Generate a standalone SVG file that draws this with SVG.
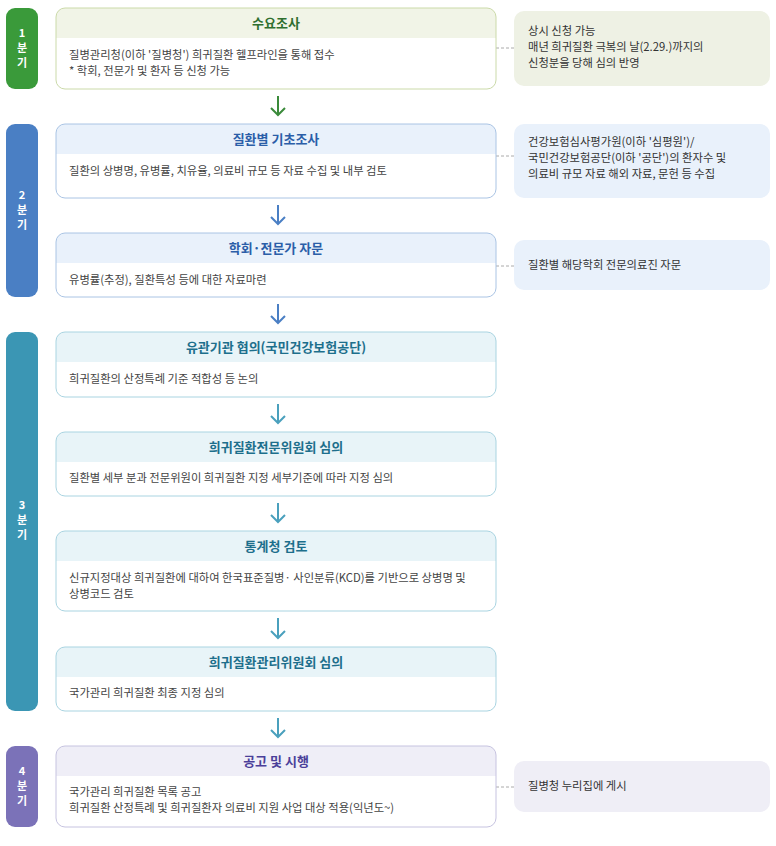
<svg xmlns="http://www.w3.org/2000/svg" width="776" height="846" viewBox="0 0 776 846">
<style>
text{font-family:"Noto Sans CJK KR","Noto Sans",sans-serif}
.q{fill:#fff;font-size:11px;font-weight:bold;text-anchor:middle}
.t{font-size:13px;font-weight:bold;text-anchor:middle}
.b{font-size:11.3px;fill:#444}
.s{font-size:11.3px;fill:#333}
.g .h{fill:#f1f4e7}.g .o{stroke:#cbdaa9}.g .t{fill:#2f6f2f}
.bl .h{fill:#e9f1fb}.bl .o{stroke:#aac4e4}.bl .t{fill:#2b5ea8}
.tl .h{fill:#e8f4f8}.tl .o{stroke:#a9d4e1}.tl .t{fill:#1d6f8c}
.p .h{fill:#efeef7}.p .o{stroke:#c6c3e0}.p .t{fill:#4b3f9a}
.o{fill:none;stroke-width:1}
.d{stroke:#aaa;stroke-dasharray:3 2;fill:none}
.a{fill:none;stroke-width:2}
</style>
<g id="quarters">
<rect x="6" y="8" width="32" height="81" rx="9" fill="#3a9a3a"/>
<text class="q" x="22" y="37">1</text><text class="q" x="22" y="52">분</text><text class="q" x="22" y="67">기</text>
<rect x="6" y="124" width="32" height="173" rx="9" fill="#4a7fc4"/>
<text class="q" x="22" y="199">2</text><text class="q" x="22" y="214">분</text><text class="q" x="22" y="229">기</text>
<rect x="6" y="332" width="32" height="379" rx="9" fill="#3b96b4"/>
<text class="q" x="22" y="509">3</text><text class="q" x="22" y="524">분</text><text class="q" x="22" y="539">기</text>
<rect x="6" y="746" width="32" height="81" rx="9" fill="#7b72b8"/>
<text class="q" x="22" y="775">4</text><text class="q" x="22" y="790">분</text><text class="q" x="22" y="805">기</text>
</g>
<g id="connectors">
<path class="d" d="M496 48H514M496 156H514M496 266H514M496 787H514"/>
<g class="a" stroke="#3a8a3a"><path d="M278 96V115M271 108L278 115L285 108"/></g>
<g class="a" stroke="#4a7fc4"><path d="M278 205V224M271 217L278 224L285 217"/><path d="M278 304V323M271 316L278 323L285 316"/></g>
<g class="a" stroke="#4aa0bd"><path d="M278 404V423M271 416L278 423L285 416"/><path d="M278 503V522M271 515L278 522L285 515"/><path d="M278 618V638M271 631L278 638L285 631"/><path d="M278 718V737M271 730L278 737L285 730"/></g>
</g>
<g id="n1" class="g"><rect x="56" y="8" width="440" height="81" rx="9" fill="#fff"/><path class="h" d="M65 8H487A9 9 0 0 1 496 17V38H56V17A9 9 0 0 1 65 8Z"/><rect class="o" x="56" y="8" width="440" height="81" rx="9"/>
<text class="t" x="276" y="28">수요조사</text>
<text class="b" x="69" y="59">질병관리청(이하 '질병청') 희귀질환 헬프라인을 통해 접수</text>
<text class="b" x="69" y="75">* 학회, 전문가 및 환자 등 신청 가능</text></g>
<g id="n2" class="bl"><rect x="56" y="124" width="440" height="74" rx="9" fill="#fff"/><path class="h" d="M65 124H487A9 9 0 0 1 496 133V154H56V133A9 9 0 0 1 65 124Z"/><rect class="o" x="56" y="124" width="440" height="74" rx="9"/>
<text class="t" x="276" y="144">질환별 기초조사</text>
<text class="b" x="69" y="175">질환의 상병명, 유병률, 치유율, 의료비 규모 등 자료 수집 및 내부 검토</text></g>
<g id="n3" class="bl"><rect x="56" y="233" width="440" height="64" rx="9" fill="#fff"/><path class="h" d="M65 233H487A9 9 0 0 1 496 242V263H56V242A9 9 0 0 1 65 233Z"/><rect class="o" x="56" y="233" width="440" height="64" rx="9"/>
<text class="t" x="276" y="253">학회·전문가 자문</text>
<text class="b" x="69" y="284">유병률(추정), 질환특성 등에 대한 자료마련</text></g>
<g id="n4" class="tl"><rect x="56" y="332" width="440" height="65" rx="9" fill="#fff"/><path class="h" d="M65 332H487A9 9 0 0 1 496 341V362H56V341A9 9 0 0 1 65 332Z"/><rect class="o" x="56" y="332" width="440" height="65" rx="9"/>
<text class="t" x="276" y="352">유관기관 협의(국민건강보험공단)</text>
<text class="b" x="69" y="383">희귀질환의 산정특례 기준 적합성 등 논의</text></g>
<g id="n5" class="tl"><rect x="56" y="432" width="440" height="64" rx="9" fill="#fff"/><path class="h" d="M65 432H487A9 9 0 0 1 496 441V462H56V441A9 9 0 0 1 65 432Z"/><rect class="o" x="56" y="432" width="440" height="64" rx="9"/>
<text class="t" x="276" y="452">희귀질환전문위원회 심의</text>
<text class="b" x="69" y="482">질환별 세부 분과 전문위원이 희귀질환 지정 세부기준에 따라 지정 심의</text></g>
<g id="n6" class="tl"><rect x="56" y="531" width="440" height="80" rx="9" fill="#fff"/><path class="h" d="M65 531H487A9 9 0 0 1 496 540V561H56V540A9 9 0 0 1 65 531Z"/><rect class="o" x="56" y="531" width="440" height="80" rx="9"/>
<text class="t" x="276" y="551">통계청 검토</text>
<text class="b" x="69" y="582">신규지정대상 희귀질환에 대하여 한국표준질병· 사인분류(KCD)를 기반으로 상병명 및</text>
<text class="b" x="69" y="598">상병코드 검토</text></g>
<g id="n7" class="tl"><rect x="56" y="647" width="440" height="64" rx="9" fill="#fff"/><path class="h" d="M65 647H487A9 9 0 0 1 496 656V677H56V656A9 9 0 0 1 65 647Z"/><rect class="o" x="56" y="647" width="440" height="64" rx="9"/>
<text class="t" x="276" y="667">희귀질환관리위원회 심의</text>
<text class="b" x="69" y="697">국가관리 희귀질환 최종 지정 심의</text></g>
<g id="n8" class="p"><rect x="56" y="746" width="440" height="81" rx="9" fill="#fff"/><path class="h" d="M65 746H487A9 9 0 0 1 496 755V776H56V755A9 9 0 0 1 65 746Z"/><rect class="o" x="56" y="746" width="440" height="81" rx="9"/>
<text class="t" x="276" y="766">공고 및 시행</text>
<text class="b" x="69" y="796">국가관리 희귀질환 목록 공고</text>
<text class="b" x="69" y="812">희귀질환 산정특례 및 희귀질환자 의료비 지원 사업 대상 적용(익년도~)</text></g>
<g id="side1"><rect x="514" y="11" width="256" height="75" rx="10" fill="#eef1e4"/>
<text class="s" x="528" y="35">상시 신청 가능</text><text class="s" x="528" y="51">매년 희귀질환 극복의 날(2.29.)까지의</text><text class="s" x="528" y="67">신청분을 당해 심의 반영</text></g>
<g id="side2"><rect x="514" y="124" width="256" height="74" rx="10" fill="#e9f1fb"/>
<text class="s" x="528" y="146">건강보험심사평가원(이하 '심평원')/</text><text class="s" x="528" y="162">국민건강보험공단(이하 '공단')의 환자수 및</text><text class="s" x="528" y="178">의료비 규모 자료 해외 자료, 문헌 등 수집</text></g>
<g id="side3"><rect x="514" y="240" width="256" height="50" rx="10" fill="#e9f1fb"/>
<text class="s" x="528" y="269">질환별 해당학회 전문의료진 자문</text></g>
<g id="side4"><rect x="514" y="761" width="256" height="51" rx="10" fill="#efeef6"/>
<text class="s" x="528" y="790">질병청 누리집에 게시</text></g>
</svg>
